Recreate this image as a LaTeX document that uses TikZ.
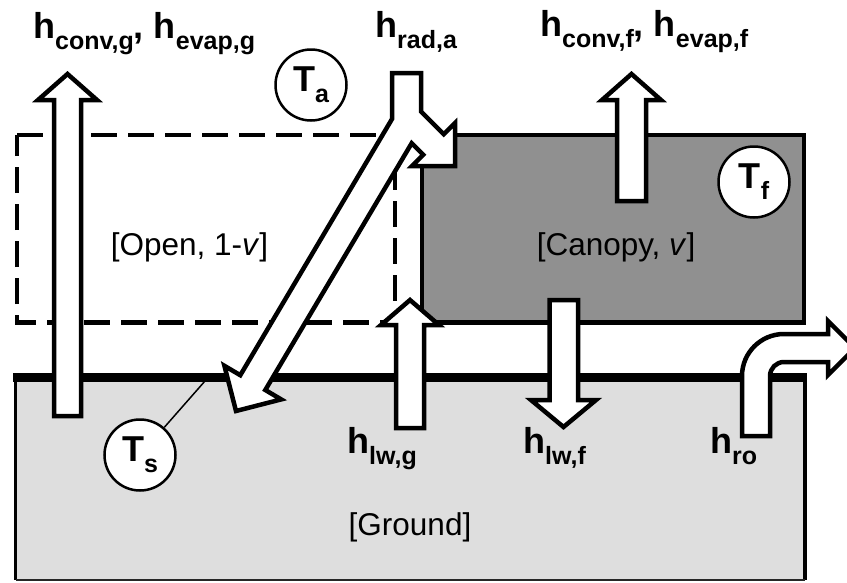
\documentclass[tikz,border=0pt]{standalone}
\usepackage{fontspec}
\setmainfont{Liberation Sans}
\definecolor{groundgray}{HTML}{DEDEDE}
\definecolor{canopygray}{HTML}{909090}
\newcommand{\mylbl}[2]{{\bfseries\fontsize{36}{36}\selectfont #1}\raisebox{-11pt}{\bfseries\fontsize{25}{25}\selectfont #2}}
\newcommand{\mycomma}{{\bfseries\fontsize{36}{36}\selectfont, }}
\begin{document}
\begin{tikzpicture}[x=1pt,y=-1pt,
  blockarrow/.style={draw=black, fill=white, line width=4.5pt, line join=miter},
  tcircle/.style={circle, draw=black, fill=white, line width=2.5pt, minimum size=71pt, inner sep=0pt},
  flux/.style={anchor=base west, inner sep=0pt},
  region/.style={anchor=base, inner sep=0pt, font=\fontsize{31.5}{31.5}\selectfont}]
\useasboundingbox (0,0) rectangle (847,582);
\clip (0,0) rectangle (847,582);

% ground
\fill[groundgray] (15.5,377.5) rectangle (805,580);
\draw[line width=3.5pt] (15.5,377.5) -- (15.5,580);
\draw[line width=3.5pt] (805,377.5) -- (805,580);
\draw[line width=2.5pt, black!85] (15.5,580) -- (805,580);
\draw[line width=9pt] (13,377.5) -- (807,377.5);

% canopy
\draw[fill=canopygray, line width=4.5pt] (422,135) rectangle (804,322.5);

% open (dashed)
\draw[line width=4.5pt, dash pattern=on 26pt off 11pt] (17,135) -- (395,135) -- (395,322.5) -- (17,322.5) -- cycle;

% region labels
\node[region] (open) at (189.5,255) {[Open, 1-\textit{v}]};
\node[region] (canopy) at (616,255) {[Canopy, \textit{v}]};
\node[region] (ground) at (410,535) {[Ground]};

% h_conv,g arrow
\draw[blockarrow] (54,416) -- (54,100) -- (38,100) -- (67.5,74) -- (97,100) -- (81,100) -- (81,416) -- cycle;
% h_conv,f arrow
\draw[blockarrow] (617,201) -- (617,100) -- (602,100) -- (631.5,74) -- (661,100) -- (646,100) -- (646,201) -- cycle;
% h_lw,g arrow
\draw[blockarrow] (396,428) -- (396,325) -- (381,325) -- (410,300) -- (439,325) -- (424,325) -- (424,428) -- cycle;
% h_lw,f arrow
\draw[blockarrow] (549.5,300) -- (549.5,400) -- (531,400) -- (563.5,427) -- (596,400) -- (578,400) -- (578,300) -- cycle;
% h_ro bent arrow
\draw[blockarrow] (742,436) -- (742,376) arc[start angle=180, end angle=270, radius=42]
  -- (828,334) -- (828,321) -- (855,348) -- (828,375) -- (828,362) -- (784,362)
  arc[start angle=270, end angle=180, radius=14] -- (770,436) -- cycle;
% h_rad,a split arrow
\draw[blockarrow] (392,73) -- (421,73) -- (421,111.5) -- (443.75,134.25) -- (455,123)
  -- (455,166) -- (412,166) -- (423.25,154.75) -- (411.7,143.2) -- (265.3,390)
  -- (281.2,399.4) -- (236,411) -- (224.4,365.8) -- (240.3,375.2) -- (392,119) -- cycle;

% temperature circles
\node[tcircle] (Ta) at (311,85) {\mylbl{T}{a}};
\node[tcircle] (Tf) at (754,182) {\mylbl{T}{f}};
\node[tcircle] (Ts) at (140,455) {\mylbl{T}{s}};
\coordinate (tsend) at (205,381);
\draw[line width=1.5pt] (Ts) -- (tsend);

% flux labels
\node[flux] (lconvg) at (33,38) {\mylbl{h}{conv,g}\mycomma\mylbl{h}{evap,g}};
\node[flux] (lrada) at (375,37) {\mylbl{h}{rad,a}};
\node[flux] (lconvf) at (540,36) {\mylbl{h}{conv,f}\mycomma\mylbl{h}{evap,f}};
\node[flux] (llwg) at (347,453) {\mylbl{h}{lw,g}};
\node[flux] (llwf) at (523,453) {\mylbl{h}{lw,f}};
\node[flux] (lro) at (710,453) {\mylbl{h}{ro}};
\end{tikzpicture}
\end{document}
